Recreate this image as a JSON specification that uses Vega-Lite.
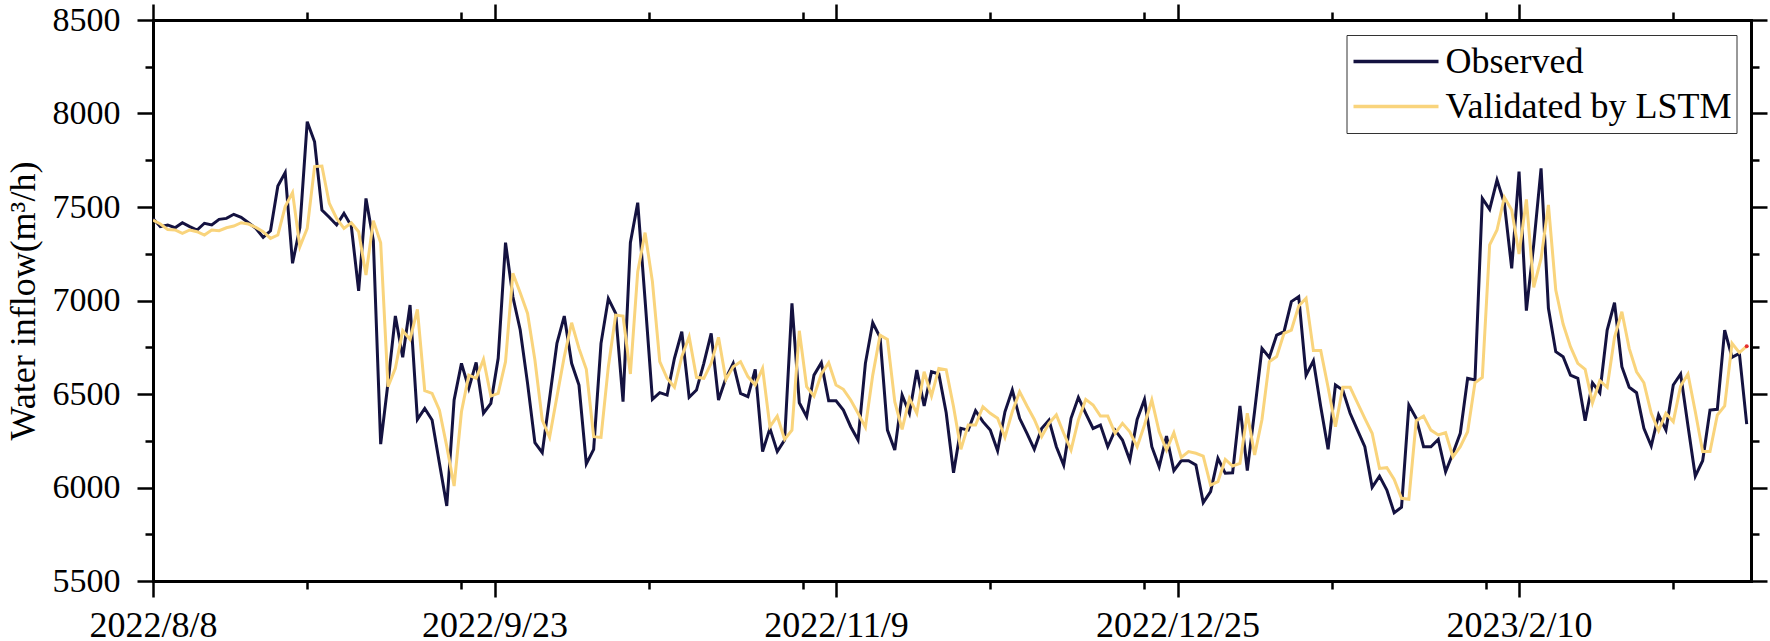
{
  "$schema": "https://vega.github.io/schema/vega-lite/v6.json",
  "width": 1598,
  "height": 561,
  "autosize": "none",
  "padding": {"left": 153, "top": 20, "right": 19, "bottom": 60},
  "background": "white",
  "config": {
    "view": {"stroke": null},
    "font": "Liberation Serif",
    "axis": {
      "labelFont": "Liberation Serif",
      "titleFont": "Liberation Serif",
      "labelColor": "black",
      "titleColor": "black",
      "tickColor": "black",
      "domainColor": "black",
      "tickWidth": 2.5,
      "domainWidth": 3,
      "domainCap": "square",
      "grid": false,
      "labelFlush": false,
      "labelOverlap": false,
      "labelBound": false,
      "zindex": 1
    }
  },
  "data": {"values": [
    {"date": "2022-08-08", "Observed": 7439, "Validated by LSTM": 7430},
    {"date": "2022-08-09", "Observed": 7395, "Validated by LSTM": 7409},
    {"date": "2022-08-10", "Observed": 7404, "Validated by LSTM": 7380},
    {"date": "2022-08-11", "Observed": 7389, "Validated by LSTM": 7377},
    {"date": "2022-08-12", "Observed": 7416, "Validated by LSTM": 7359},
    {"date": "2022-08-13", "Observed": 7395, "Validated by LSTM": 7377},
    {"date": "2022-08-14", "Observed": 7377, "Validated by LSTM": 7368},
    {"date": "2022-08-15", "Observed": 7413, "Validated by LSTM": 7350},
    {"date": "2022-08-16", "Observed": 7404, "Validated by LSTM": 7377},
    {"date": "2022-08-17", "Observed": 7434, "Validated by LSTM": 7373},
    {"date": "2022-08-18", "Observed": 7439, "Validated by LSTM": 7389},
    {"date": "2022-08-19", "Observed": 7461, "Validated by LSTM": 7398},
    {"date": "2022-08-20", "Observed": 7445, "Validated by LSTM": 7416},
    {"date": "2022-08-21", "Observed": 7416, "Validated by LSTM": 7409},
    {"date": "2022-08-22", "Observed": 7386, "Validated by LSTM": 7391},
    {"date": "2022-08-23", "Observed": 7338, "Validated by LSTM": 7368},
    {"date": "2022-08-24", "Observed": 7373, "Validated by LSTM": 7332},
    {"date": "2022-08-25", "Observed": 7612, "Validated by LSTM": 7350},
    {"date": "2022-08-26", "Observed": 7684, "Validated by LSTM": 7502},
    {"date": "2022-08-27", "Observed": 7199, "Validated by LSTM": 7577},
    {"date": "2022-08-28", "Observed": 7390, "Validated by LSTM": 7288},
    {"date": "2022-08-29", "Observed": 7956, "Validated by LSTM": 7386},
    {"date": "2022-08-30", "Observed": 7849, "Validated by LSTM": 7716},
    {"date": "2022-08-31", "Observed": 7484, "Validated by LSTM": 7719},
    {"date": "2022-09-01", "Observed": 7445, "Validated by LSTM": 7520},
    {"date": "2022-09-02", "Observed": 7404, "Validated by LSTM": 7439},
    {"date": "2022-09-03", "Observed": 7466, "Validated by LSTM": 7386},
    {"date": "2022-09-04", "Observed": 7398, "Validated by LSTM": 7416},
    {"date": "2022-09-05", "Observed": 7052, "Validated by LSTM": 7368},
    {"date": "2022-09-06", "Observed": 7546, "Validated by LSTM": 7136},
    {"date": "2022-09-07", "Observed": 7320, "Validated by LSTM": 7427},
    {"date": "2022-09-08", "Observed": 6232, "Validated by LSTM": 7309},
    {"date": "2022-09-09", "Observed": 6560, "Validated by LSTM": 6539},
    {"date": "2022-09-10", "Observed": 6917, "Validated by LSTM": 6637},
    {"date": "2022-09-11", "Observed": 6696, "Validated by LSTM": 6839},
    {"date": "2022-09-12", "Observed": 6976, "Validated by LSTM": 6792},
    {"date": "2022-09-13", "Observed": 6364, "Validated by LSTM": 6953},
    {"date": "2022-09-14", "Observed": 6423, "Validated by LSTM": 6518},
    {"date": "2022-09-15", "Observed": 6361, "Validated by LSTM": 6503},
    {"date": "2022-09-16", "Observed": 6130, "Validated by LSTM": 6414},
    {"date": "2022-09-17", "Observed": 5901, "Validated by LSTM": 6220},
    {"date": "2022-09-18", "Observed": 6468, "Validated by LSTM": 6008},
    {"date": "2022-09-19", "Observed": 6664, "Validated by LSTM": 6405},
    {"date": "2022-09-20", "Observed": 6530, "Validated by LSTM": 6601},
    {"date": "2022-09-21", "Observed": 6669, "Validated by LSTM": 6584},
    {"date": "2022-09-22", "Observed": 6397, "Validated by LSTM": 6685},
    {"date": "2022-09-23", "Observed": 6450, "Validated by LSTM": 6489},
    {"date": "2022-09-24", "Observed": 6691, "Validated by LSTM": 6503},
    {"date": "2022-09-25", "Observed": 7309, "Validated by LSTM": 6673},
    {"date": "2022-09-26", "Observed": 7020, "Validated by LSTM": 7145},
    {"date": "2022-09-27", "Observed": 6842, "Validated by LSTM": 7042},
    {"date": "2022-09-28", "Observed": 6557, "Validated by LSTM": 6931},
    {"date": "2022-09-29", "Observed": 6240, "Validated by LSTM": 6682},
    {"date": "2022-09-30", "Observed": 6186, "Validated by LSTM": 6361},
    {"date": "2022-10-01", "Observed": 6477, "Validated by LSTM": 6268},
    {"date": "2022-10-02", "Observed": 6771, "Validated by LSTM": 6486},
    {"date": "2022-10-03", "Observed": 6917, "Validated by LSTM": 6700},
    {"date": "2022-10-04", "Observed": 6664, "Validated by LSTM": 6881},
    {"date": "2022-10-05", "Observed": 6548, "Validated by LSTM": 6744},
    {"date": "2022-10-06", "Observed": 6126, "Validated by LSTM": 6632},
    {"date": "2022-10-07", "Observed": 6204, "Validated by LSTM": 6272},
    {"date": "2022-10-08", "Observed": 6771, "Validated by LSTM": 6268},
    {"date": "2022-10-09", "Observed": 7010, "Validated by LSTM": 6646},
    {"date": "2022-10-10", "Observed": 6931, "Validated by LSTM": 6922},
    {"date": "2022-10-11", "Observed": 6459, "Validated by LSTM": 6917},
    {"date": "2022-10-12", "Observed": 7309, "Validated by LSTM": 6607},
    {"date": "2022-10-13", "Observed": 7523, "Validated by LSTM": 7154},
    {"date": "2022-10-14", "Observed": 7003, "Validated by LSTM": 7363},
    {"date": "2022-10-15", "Observed": 6471, "Validated by LSTM": 7101},
    {"date": "2022-10-16", "Observed": 6507, "Validated by LSTM": 6673},
    {"date": "2022-10-17", "Observed": 6494, "Validated by LSTM": 6584},
    {"date": "2022-10-18", "Observed": 6691, "Validated by LSTM": 6536},
    {"date": "2022-10-19", "Observed": 6833, "Validated by LSTM": 6700},
    {"date": "2022-10-20", "Observed": 6482, "Validated by LSTM": 6806},
    {"date": "2022-10-21", "Observed": 6521, "Validated by LSTM": 6589},
    {"date": "2022-10-22", "Observed": 6664, "Validated by LSTM": 6584},
    {"date": "2022-10-23", "Observed": 6824, "Validated by LSTM": 6664},
    {"date": "2022-10-24", "Observed": 6468, "Validated by LSTM": 6803},
    {"date": "2022-10-25", "Observed": 6584, "Validated by LSTM": 6578},
    {"date": "2022-10-26", "Observed": 6664, "Validated by LSTM": 6646},
    {"date": "2022-10-27", "Observed": 6503, "Validated by LSTM": 6673},
    {"date": "2022-10-28", "Observed": 6486, "Validated by LSTM": 6593},
    {"date": "2022-10-29", "Observed": 6632, "Validated by LSTM": 6548},
    {"date": "2022-10-30", "Observed": 6192, "Validated by LSTM": 6637},
    {"date": "2022-10-31", "Observed": 6316, "Validated by LSTM": 6325},
    {"date": "2022-11-01", "Observed": 6192, "Validated by LSTM": 6382},
    {"date": "2022-11-02", "Observed": 6254, "Validated by LSTM": 6257},
    {"date": "2022-11-03", "Observed": 6985, "Validated by LSTM": 6307},
    {"date": "2022-11-04", "Observed": 6453, "Validated by LSTM": 6838},
    {"date": "2022-11-05", "Observed": 6379, "Validated by LSTM": 6539},
    {"date": "2022-11-06", "Observed": 6601, "Validated by LSTM": 6489},
    {"date": "2022-11-07", "Observed": 6667, "Validated by LSTM": 6607},
    {"date": "2022-11-08", "Observed": 6464, "Validated by LSTM": 6667},
    {"date": "2022-11-09", "Observed": 6464, "Validated by LSTM": 6548},
    {"date": "2022-11-10", "Observed": 6414, "Validated by LSTM": 6525},
    {"date": "2022-11-11", "Observed": 6325, "Validated by LSTM": 6468},
    {"date": "2022-11-12", "Observed": 6254, "Validated by LSTM": 6397},
    {"date": "2022-11-13", "Observed": 6664, "Validated by LSTM": 6322},
    {"date": "2022-11-14", "Observed": 6881, "Validated by LSTM": 6601},
    {"date": "2022-11-15", "Observed": 6803, "Validated by LSTM": 6815},
    {"date": "2022-11-16", "Observed": 6307, "Validated by LSTM": 6792},
    {"date": "2022-11-17", "Observed": 6200, "Validated by LSTM": 6459},
    {"date": "2022-11-18", "Observed": 6494, "Validated by LSTM": 6311},
    {"date": "2022-11-19", "Observed": 6397, "Validated by LSTM": 6477},
    {"date": "2022-11-20", "Observed": 6628, "Validated by LSTM": 6397},
    {"date": "2022-11-21", "Observed": 6436, "Validated by LSTM": 6619},
    {"date": "2022-11-22", "Observed": 6619, "Validated by LSTM": 6489},
    {"date": "2022-11-23", "Observed": 6607, "Validated by LSTM": 6637},
    {"date": "2022-11-24", "Observed": 6400, "Validated by LSTM": 6630},
    {"date": "2022-11-25", "Observed": 6079, "Validated by LSTM": 6432},
    {"date": "2022-11-26", "Observed": 6316, "Validated by LSTM": 6204},
    {"date": "2022-11-27", "Observed": 6307, "Validated by LSTM": 6334},
    {"date": "2022-11-28", "Observed": 6411, "Validated by LSTM": 6334},
    {"date": "2022-11-29", "Observed": 6352, "Validated by LSTM": 6432},
    {"date": "2022-11-30", "Observed": 6307, "Validated by LSTM": 6397},
    {"date": "2022-12-01", "Observed": 6197, "Validated by LSTM": 6370},
    {"date": "2022-12-02", "Observed": 6405, "Validated by LSTM": 6268},
    {"date": "2022-12-03", "Observed": 6521, "Validated by LSTM": 6405},
    {"date": "2022-12-04", "Observed": 6370, "Validated by LSTM": 6512},
    {"date": "2022-12-05", "Observed": 6290, "Validated by LSTM": 6436},
    {"date": "2022-12-06", "Observed": 6204, "Validated by LSTM": 6364},
    {"date": "2022-12-07", "Observed": 6316, "Validated by LSTM": 6272},
    {"date": "2022-12-08", "Observed": 6361, "Validated by LSTM": 6343},
    {"date": "2022-12-09", "Observed": 6218, "Validated by LSTM": 6388},
    {"date": "2022-12-10", "Observed": 6120, "Validated by LSTM": 6290},
    {"date": "2022-12-11", "Observed": 6370, "Validated by LSTM": 6200},
    {"date": "2022-12-12", "Observed": 6482, "Validated by LSTM": 6361},
    {"date": "2022-12-13", "Observed": 6397, "Validated by LSTM": 6471},
    {"date": "2022-12-14", "Observed": 6316, "Validated by LSTM": 6441},
    {"date": "2022-12-15", "Observed": 6334, "Validated by LSTM": 6382},
    {"date": "2022-12-16", "Observed": 6218, "Validated by LSTM": 6382},
    {"date": "2022-12-17", "Observed": 6307, "Validated by LSTM": 6290},
    {"date": "2022-12-18", "Observed": 6254, "Validated by LSTM": 6343},
    {"date": "2022-12-19", "Observed": 6147, "Validated by LSTM": 6298},
    {"date": "2022-12-20", "Observed": 6364, "Validated by LSTM": 6218},
    {"date": "2022-12-21", "Observed": 6471, "Validated by LSTM": 6334},
    {"date": "2022-12-22", "Observed": 6218, "Validated by LSTM": 6468},
    {"date": "2022-12-23", "Observed": 6111, "Validated by LSTM": 6298},
    {"date": "2022-12-24", "Observed": 6275, "Validated by LSTM": 6200},
    {"date": "2022-12-25", "Observed": 6090, "Validated by LSTM": 6293},
    {"date": "2022-12-26", "Observed": 6143, "Validated by LSTM": 6161},
    {"date": "2022-12-27", "Observed": 6143, "Validated by LSTM": 6192},
    {"date": "2022-12-28", "Observed": 6120, "Validated by LSTM": 6183},
    {"date": "2022-12-29", "Observed": 5919, "Validated by LSTM": 6168},
    {"date": "2022-12-30", "Observed": 5978, "Validated by LSTM": 6013},
    {"date": "2022-12-31", "Observed": 6156, "Validated by LSTM": 6031},
    {"date": "2023-01-01", "Observed": 6076, "Validated by LSTM": 6150},
    {"date": "2023-01-02", "Observed": 6079, "Validated by LSTM": 6115},
    {"date": "2023-01-03", "Observed": 6436, "Validated by LSTM": 6129},
    {"date": "2023-01-04", "Observed": 6090, "Validated by LSTM": 6397},
    {"date": "2023-01-05", "Observed": 6410, "Validated by LSTM": 6174},
    {"date": "2023-01-06", "Observed": 6744, "Validated by LSTM": 6364},
    {"date": "2023-01-07", "Observed": 6696, "Validated by LSTM": 6673},
    {"date": "2023-01-08", "Observed": 6815, "Validated by LSTM": 6700},
    {"date": "2023-01-09", "Observed": 6833, "Validated by LSTM": 6824},
    {"date": "2023-01-10", "Observed": 6994, "Validated by LSTM": 6842},
    {"date": "2023-01-11", "Observed": 7021, "Validated by LSTM": 6971},
    {"date": "2023-01-12", "Observed": 6601, "Validated by LSTM": 7012},
    {"date": "2023-01-13", "Observed": 6678, "Validated by LSTM": 6732},
    {"date": "2023-01-14", "Observed": 6432, "Validated by LSTM": 6732},
    {"date": "2023-01-15", "Observed": 6204, "Validated by LSTM": 6536},
    {"date": "2023-01-16", "Observed": 6548, "Validated by LSTM": 6325},
    {"date": "2023-01-17", "Observed": 6521, "Validated by LSTM": 6536},
    {"date": "2023-01-18", "Observed": 6397, "Validated by LSTM": 6536},
    {"date": "2023-01-19", "Observed": 6307, "Validated by LSTM": 6453},
    {"date": "2023-01-20", "Observed": 6218, "Validated by LSTM": 6370},
    {"date": "2023-01-21", "Observed": 6001, "Validated by LSTM": 6290},
    {"date": "2023-01-22", "Observed": 6061, "Validated by LSTM": 6102},
    {"date": "2023-01-23", "Observed": 5986, "Validated by LSTM": 6106},
    {"date": "2023-01-24", "Observed": 5865, "Validated by LSTM": 6043},
    {"date": "2023-01-25", "Observed": 5894, "Validated by LSTM": 5942},
    {"date": "2023-01-26", "Observed": 6441, "Validated by LSTM": 5937},
    {"date": "2023-01-27", "Observed": 6370, "Validated by LSTM": 6357},
    {"date": "2023-01-28", "Observed": 6218, "Validated by LSTM": 6382},
    {"date": "2023-01-29", "Observed": 6218, "Validated by LSTM": 6307},
    {"date": "2023-01-30", "Observed": 6257, "Validated by LSTM": 6281},
    {"date": "2023-01-31", "Observed": 6084, "Validated by LSTM": 6293},
    {"date": "2023-02-01", "Observed": 6183, "Validated by LSTM": 6164},
    {"date": "2023-02-02", "Observed": 6290, "Validated by LSTM": 6218},
    {"date": "2023-02-03", "Observed": 6584, "Validated by LSTM": 6298},
    {"date": "2023-02-04", "Observed": 6575, "Validated by LSTM": 6560},
    {"date": "2023-02-05", "Observed": 7546, "Validated by LSTM": 6589},
    {"date": "2023-02-06", "Observed": 7487, "Validated by LSTM": 7297},
    {"date": "2023-02-07", "Observed": 7644, "Validated by LSTM": 7377},
    {"date": "2023-02-08", "Observed": 7520, "Validated by LSTM": 7552},
    {"date": "2023-02-09", "Observed": 7172, "Validated by LSTM": 7484},
    {"date": "2023-02-10", "Observed": 7689, "Validated by LSTM": 7248},
    {"date": "2023-02-11", "Observed": 6946, "Validated by LSTM": 7541},
    {"date": "2023-02-12", "Observed": 7300, "Validated by LSTM": 7070},
    {"date": "2023-02-13", "Observed": 7707, "Validated by LSTM": 7225},
    {"date": "2023-02-14", "Observed": 6958, "Validated by LSTM": 7511},
    {"date": "2023-02-15", "Observed": 6726, "Validated by LSTM": 7056},
    {"date": "2023-02-16", "Observed": 6699, "Validated by LSTM": 6874},
    {"date": "2023-02-17", "Observed": 6601, "Validated by LSTM": 6753},
    {"date": "2023-02-18", "Observed": 6584, "Validated by LSTM": 6664},
    {"date": "2023-02-19", "Observed": 6357, "Validated by LSTM": 6632},
    {"date": "2023-02-20", "Observed": 6560, "Validated by LSTM": 6453},
    {"date": "2023-02-21", "Observed": 6507, "Validated by LSTM": 6571},
    {"date": "2023-02-22", "Observed": 6842, "Validated by LSTM": 6536},
    {"date": "2023-02-23", "Observed": 6988, "Validated by LSTM": 6803},
    {"date": "2023-02-24", "Observed": 6646, "Validated by LSTM": 6940},
    {"date": "2023-02-25", "Observed": 6536, "Validated by LSTM": 6744},
    {"date": "2023-02-26", "Observed": 6507, "Validated by LSTM": 6619},
    {"date": "2023-02-27", "Observed": 6316, "Validated by LSTM": 6560},
    {"date": "2023-02-28", "Observed": 6222, "Validated by LSTM": 6397},
    {"date": "2023-03-01", "Observed": 6388, "Validated by LSTM": 6304},
    {"date": "2023-03-02", "Observed": 6307, "Validated by LSTM": 6397},
    {"date": "2023-03-03", "Observed": 6548, "Validated by LSTM": 6352},
    {"date": "2023-03-04", "Observed": 6607, "Validated by LSTM": 6543},
    {"date": "2023-03-05", "Observed": 6330, "Validated by LSTM": 6607},
    {"date": "2023-03-06", "Observed": 6061, "Validated by LSTM": 6405},
    {"date": "2023-03-07", "Observed": 6143, "Validated by LSTM": 6192},
    {"date": "2023-03-08", "Observed": 6414, "Validated by LSTM": 6192},
    {"date": "2023-03-09", "Observed": 6418, "Validated by LSTM": 6388},
    {"date": "2023-03-10", "Observed": 6842, "Validated by LSTM": 6436},
    {"date": "2023-03-11", "Observed": 6696, "Validated by LSTM": 6771},
    {"date": "2023-03-12", "Observed": 6717, "Validated by LSTM": 6721},
    {"date": "2023-03-13", "Observed": 6339, "Validated by LSTM": 6756}
  ]},
  "transform": [
    {"fold": ["Observed", "Validated by LSTM"], "as": ["series", "value"]}
  ],
  "resolve": {"axis": {"x": "independent", "y": "independent"}},
  "layer": [
    {
      "mark": {"type": "line", "strokeWidth": 3, "clip": true},
      "encoding": {
        "x": {
          "field": "date", "type": "temporal",
          "scale": {"type": "utc", "domain": [{"year": 2022, "month": 8, "date": 8, "utc": true}, {"year": 2023, "month": 3, "date": 13, "hours": 14, "utc": true}]},
          "axis": {
            "orient": "bottom",
            "values": [
              {"year": 2022, "month": 8, "date": 8, "utc": true},
              {"year": 2022, "month": 9, "date": 23, "hours": 12, "utc": true},
              {"year": 2022, "month": 11, "date": 9, "utc": true},
              {"year": 2022, "month": 12, "date": 25, "hours": 12, "utc": true},
              {"year": 2023, "month": 2, "date": 10, "utc": true}
            ],
            "labelExpr": "utcFormat(datum.value, '%Y/%-m/%-d')",
            "tickSize": 16, "labelFontSize": 36, "labelPadding": 11, "title": null
          }
        },
        "y": {
          "field": "value", "type": "quantitative",
          "scale": {"domain": [5500, 8500], "nice": false, "zero": false},
          "axis": {
            "orient": "left",
            "values": [5500, 6000, 6500, 7000, 7500, 8000, 8500],
            "format": "d",
            "tickSize": 16, "labelFontSize": 34, "labelPadding": 17,
            "title": "Water inflow(m³/h)", "titleFontSize": 36, "titleFontWeight": "normal", "titlePadding": 10
          }
        },
        "color": {
          "field": "series", "type": "nominal",
          "scale": {"domain": ["Observed", "Validated by LSTM"], "range": ["#141240", "#f9d47c"]},
          "legend": {
            "title": null,
            "orient": "none",
            "legendX": 1193.5,
            "legendY": 15,
            "symbolType": "stroke",
            "symbolSize": 7225,
            "symbolStrokeWidth": 3.5,
            "clipHeight": 43,
            "rowPadding": 2,
            "padding": 5,
            "labelOffset": 5,
            "labelFont": "Liberation Serif",
            "labelFontSize": 36,
            "labelColor": "black",
            "labelLimit": 500,
            "strokeColor": "#333333",
            "fillColor": "white"
          }
        }
      }
    },
    {
      "mark": {"type": "point", "opacity": 0},
      "encoding": {
        "x": {
          "field": "date", "type": "temporal",
          "scale": {"type": "utc", "domain": [{"year": 2022, "month": 8, "date": 8, "utc": true}, {"year": 2023, "month": 3, "date": 13, "hours": 14, "utc": true}]},
          "axis": {
            "orient": "bottom",
            "values": [
              {"year": 2022, "month": 8, "date": 29, "utc": true},
              {"year": 2022, "month": 9, "date": 19, "utc": true},
              {"year": 2022, "month": 10, "date": 14, "hours": 12, "utc": true},
              {"year": 2022, "month": 11, "date": 4, "hours": 12, "utc": true},
              {"year": 2022, "month": 11, "date": 30, "utc": true},
              {"year": 2022, "month": 12, "date": 21, "utc": true},
              {"year": 2023, "month": 1, "date": 15, "hours": 12, "utc": true},
              {"year": 2023, "month": 2, "date": 5, "hours": 12, "utc": true},
              {"year": 2023, "month": 3, "date": 3, "utc": true}
            ],
            "tickSize": 8, "labels": false, "domain": false, "title": null
          }
        },
        "y": {
          "field": "value", "type": "quantitative",
          "scale": {"domain": [5500, 8500], "nice": false, "zero": false},
          "axis": {
            "orient": "left",
            "values": [5750, 6250, 6750, 7250, 7750, 8250],
            "tickSize": 8, "labels": false, "domain": false, "title": null
          }
        }
      }
    },
    {
      "mark": {"type": "point", "opacity": 0},
      "encoding": {
        "x": {
          "field": "date", "type": "temporal",
          "scale": {"type": "utc", "domain": [{"year": 2022, "month": 8, "date": 8, "utc": true}, {"year": 2023, "month": 3, "date": 13, "hours": 14, "utc": true}]},
          "axis": {
            "orient": "top",
            "values": [
              {"year": 2022, "month": 8, "date": 8, "utc": true},
              {"year": 2022, "month": 9, "date": 23, "hours": 12, "utc": true},
              {"year": 2022, "month": 11, "date": 9, "utc": true},
              {"year": 2022, "month": 12, "date": 25, "hours": 12, "utc": true},
              {"year": 2023, "month": 2, "date": 10, "utc": true}
            ],
            "tickSize": 16, "labels": false, "title": null
          }
        },
        "y": {
          "field": "value", "type": "quantitative",
          "scale": {"domain": [5500, 8500], "nice": false, "zero": false},
          "axis": {
            "orient": "right",
            "values": [5500, 6000, 6500, 7000, 7500, 8000, 8500],
            "tickSize": 16, "labels": false, "title": null
          }
        }
      }
    },
    {
      "mark": {"type": "point", "opacity": 0},
      "encoding": {
        "x": {
          "field": "date", "type": "temporal",
          "scale": {"type": "utc", "domain": [{"year": 2022, "month": 8, "date": 8, "utc": true}, {"year": 2023, "month": 3, "date": 13, "hours": 14, "utc": true}]},
          "axis": {
            "orient": "top",
            "values": [
              {"year": 2022, "month": 8, "date": 29, "utc": true},
              {"year": 2022, "month": 9, "date": 19, "utc": true},
              {"year": 2022, "month": 10, "date": 14, "hours": 12, "utc": true},
              {"year": 2022, "month": 11, "date": 4, "hours": 12, "utc": true},
              {"year": 2022, "month": 11, "date": 30, "utc": true},
              {"year": 2022, "month": 12, "date": 21, "utc": true},
              {"year": 2023, "month": 1, "date": 15, "hours": 12, "utc": true},
              {"year": 2023, "month": 2, "date": 5, "hours": 12, "utc": true},
              {"year": 2023, "month": 3, "date": 3, "utc": true}
            ],
            "tickSize": 8, "labels": false, "domain": false, "title": null
          }
        },
        "y": {
          "field": "value", "type": "quantitative",
          "scale": {"domain": [5500, 8500], "nice": false, "zero": false},
          "axis": {
            "orient": "right",
            "values": [5750, 6250, 6750, 7250, 7750, 8250],
            "tickSize": 8, "labels": false, "domain": false, "title": null
          }
        }
      }
    },
    {
      "transform": [
        {"window": [{"op": "row_number", "as": "rn"}], "sort": [{"field": "date", "order": "descending"}], "groupby": ["series"]},
        {"filter": "datum.rn === 1 && datum.series === 'Validated by LSTM'"}
      ],
      "mark": {"type": "point", "filled": true, "color": "#e53030", "size": 16, "opacity": 1},
      "encoding": {
        "x": {"field": "date", "type": "temporal", "axis": null},
        "y": {"field": "value", "type": "quantitative", "axis": null}
      }
    }
  ]
}
